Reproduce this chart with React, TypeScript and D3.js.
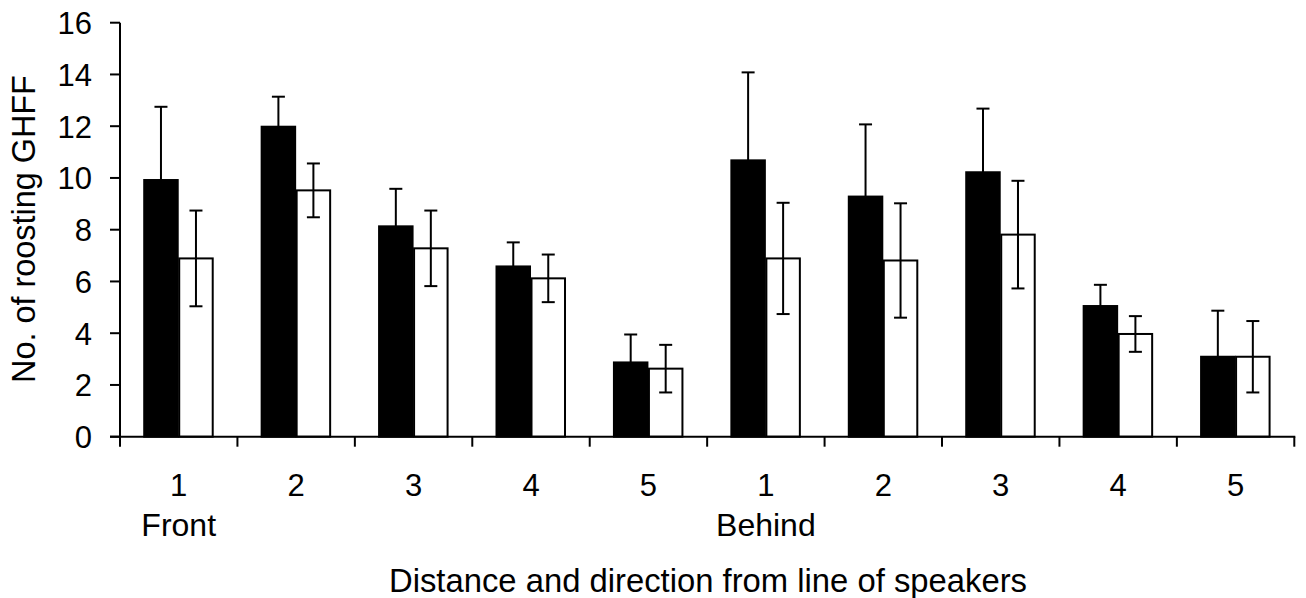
import React from "react";
import * as d3 from "d3";

const categories = ["1", "2", "3", "4", "5", "1", "2", "3", "4", "5"];
const groupLabels = [
  { label: "Front", index: 0 },
  { label: "Behind", index: 5 },
];
const blackValues = [9.92, 11.98, 8.13, 6.58, 2.87, 10.68, 9.28, 10.22, 5.05, 3.09];
const blackErrors = [2.83, 1.16, 1.45, 0.93, 1.08, 3.4, 2.79, 2.46, 0.82, 1.78];
const whiteValues = [6.89, 9.52, 7.28, 6.12, 2.63, 6.89, 6.81, 7.81, 3.97, 3.09];
const whiteErrors = [1.85, 1.04, 1.46, 0.92, 0.92, 2.15, 2.21, 2.08, 0.69, 1.38];
const yTicks = [0, 2, 4, 6, 8, 10, 12, 14, 16];

const W = 1306;
const H = 598;
const FONT = "'Liberation Sans', Arial, sans-serif";
const FS = 31;

export default function App() {
  const x = d3
    .scaleBand<number>()
    .domain(categories.map((_, i) => i))
    .range([120, 1294.3])
    .padding(0);
  const y = d3.scaleLinear().domain([0, 16]).range([436.7, 22.7]);
  const bw = 33.5;
  const cap = 6.5;
  const sw = 2;

  return (
    <svg
      width={W}
      height={H}
      style={{ position: "absolute", left: 0, top: 0, background: "#fff" }}
      fontFamily={FONT}
    >
      <rect x={0} y={0} width={W} height={H} fill="#fff" />
      {categories.map((_, i) => {
        const c = (x(i) as number) + x.bandwidth() / 2;
        const bv = blackValues[i];
        const wv = whiteValues[i];
        const be = blackErrors[i];
        const we = whiteErrors[i];
        const bcx = c - bw / 2 - 1;
        const wx = c + 0.5;
        const wcx = wx + bw / 2;
        return (
          <g key={i}>
            <rect
              x={c - bw - 1}
              y={y(bv)}
              width={bw}
              height={y(0) - y(bv)}
              fill="#000"
              stroke="#000"
              strokeWidth={sw}
            />
            <rect
              x={wx}
              y={y(wv)}
              width={bw}
              height={y(0) - y(wv)}
              fill="#fff"
              stroke="#000"
              strokeWidth={sw}
            />
            <line x1={bcx} x2={bcx} y1={y(bv)} y2={y(bv + be)} stroke="#000" strokeWidth={sw} />
            <line
              x1={bcx - cap}
              x2={bcx + cap}
              y1={y(bv + be)}
              y2={y(bv + be)}
              stroke="#000"
              strokeWidth={sw}
            />
            <line x1={wcx} x2={wcx} y1={y(wv - we)} y2={y(wv + we)} stroke="#000" strokeWidth={sw} />
            <line
              x1={wcx - cap}
              x2={wcx + cap}
              y1={y(wv + we)}
              y2={y(wv + we)}
              stroke="#000"
              strokeWidth={sw}
            />
            <line
              x1={wcx - cap}
              x2={wcx + cap}
              y1={y(wv - we)}
              y2={y(wv - we)}
              stroke="#000"
              strokeWidth={sw}
            />
          </g>
        );
      })}
      <line x1={120} x2={120} y1={y(16)} y2={y(0)} stroke="#000" strokeWidth={sw} />
      {yTicks.map((t) => (
        <g key={t}>
          <line x1={110} x2={120} y1={y(t)} y2={y(t)} stroke="#000" strokeWidth={sw} />
          <text x={92} y={y(t)} dy="0.37em" textAnchor="end" fontSize={FS} fill="#000">
            {t}
          </text>
        </g>
      ))}
      <line x1={110} x2={1295.3} y1={y(0)} y2={y(0)} stroke="#000" strokeWidth={sw} />
      {d3.range(categories.length + 1).map((i) => {
        const px = 120 + i * x.bandwidth();
        return <line key={i} x1={px} x2={px} y1={y(0)} y2={y(0) + 10} stroke="#000" strokeWidth={sw} />;
      })}
      {categories.map((c, i) => (
        <text
          key={i}
          x={(x(i) as number) + x.bandwidth() / 2}
          y={496}
          textAnchor="middle"
          fontSize={FS}
          fill="#000"
        >
          {c}
        </text>
      ))}
      {groupLabels.map((g) => (
        <text
          key={g.label}
          x={(x(g.index) as number) + x.bandwidth() / 2}
          y={536}
          textAnchor="middle"
          fontSize={32}
          fill="#000"
        >
          {g.label}
        </text>
      ))}
      <text x={708} y={592} textAnchor="middle" fontSize={32.8} fill="#000">
        Distance and direction from line of speakers
      </text>
      <text
        transform="translate(35, 229) rotate(-90)"
        textAnchor="middle"
        fontSize={32.4}
        fill="#000"
      >
        No. of roosting GHFF
      </text>
    </svg>
  );
}
